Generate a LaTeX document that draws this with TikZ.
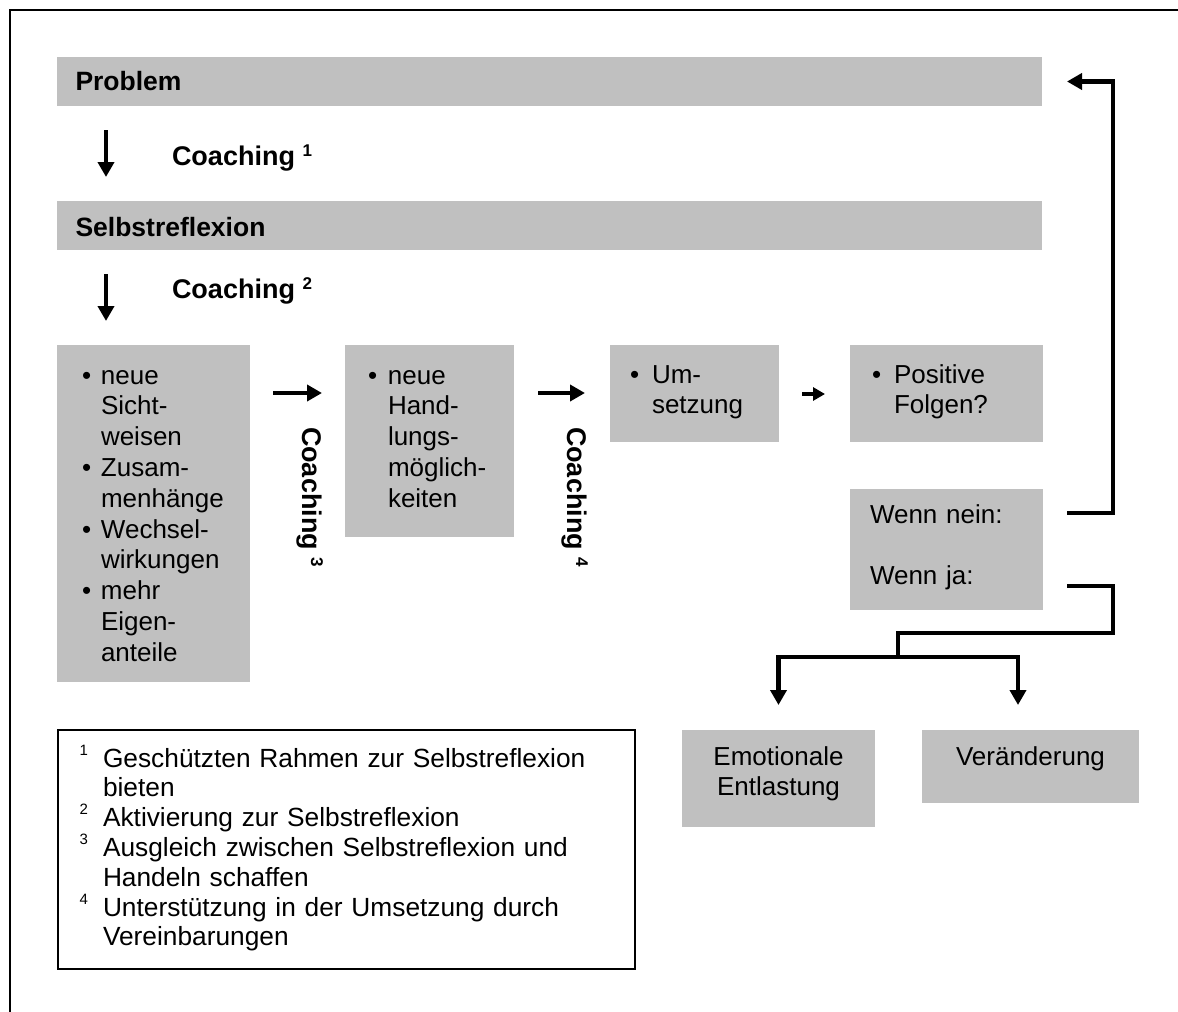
\documentclass[tikz,border=0pt]{standalone}
\usepackage{fontspec}
\setmainfont{Liberation Sans}
\usetikzlibrary{arrows.meta}
\definecolor{boxgray}{HTML}{C0C0C0}
\newcommand{\mybul}[1]{\leavevmode\makebox[#1][l]{\textbullet}}
\newcommand{\myind}[1]{\leavevmode\hspace*{#1}}
\newcommand{\csup}[1]{\raisebox{9pt}{\fontsize{17pt}{17pt}\selectfont #1}}
\newcommand{\fnm}[1]{\leavevmode\llap{\raisebox{12pt}{\fontsize{15pt}{15pt}\selectfont #1}\hspace{15pt}}}
\tikzset{
  box/.style={fill=boxgray, draw=none, inner sep=0pt, outer sep=0pt, anchor=north west},
  txt/.style={inner sep=0pt, outer sep=0pt, anchor=base west, align=left,
    font=\fontsize{26pt}{30.8pt}\selectfont},
  head/.style={inner sep=0pt, outer sep=0pt, anchor=base west,
    font=\fontsize{26.5pt}{30pt}\selectfont\bfseries},
  coach/.style={inner sep=0pt, outer sep=0pt, anchor=base west,
    font=\fontsize{27pt}{30pt}\selectfont\bfseries},
  arr/.style={line width=4.5pt, -{Triangle[length=15pt,width=16pt]}},
  arrsmall/.style={line width=4.5pt, -{Triangle[length=12pt,width=13pt]}},
  conn/.style={line width=4.5pt},
  frame/.style={line width=2pt}
}
\begin{document}
\begin{tikzpicture}[x=1pt,y=-1pt]
\useasboundingbox (0,0) rectangle (1178,1012);
% outer frame (top and left)
\draw[frame] (10,1012) -- (10,9.5) -- (1178,9.5);

% boxes
\node[box, minimum width=985pt, minimum height=49pt] (P) at (57,57) {};
\node[box, minimum width=985pt, minimum height=49pt] (S) at (57,201) {};
\node[box, minimum width=193pt, minimum height=337pt] (A) at (57,345) {};
\node[box, minimum width=169pt, minimum height=192pt] (B) at (345,345) {};
\node[box, minimum width=169pt, minimum height=97pt] (C) at (610,345) {};
\node[box, minimum width=193pt, minimum height=97pt] (D) at (850,345) {};
\node[box, minimum width=193pt, minimum height=121pt] (E) at (850,489) {};
\node[box, minimum width=193pt, minimum height=97pt] (F) at (682,730) {};
\node[box, minimum width=217pt, minimum height=73pt] (G) at (922,730) {};
\node[draw, frame, inner sep=0pt, outer sep=0pt, anchor=north west,
      minimum width=577pt, minimum height=239pt] (FN) at (58,730) {};

% texts
\node[head] (Pt) at (75.5,90.7) {Problem};
\node[head] (St) at (75.5,236.5) {Selbstreflexion};
\node[coach] (C1) at (172,165) {Coaching \csup{1}};
\node[coach] (C2) at (172,298) {Coaching \csup{2}};
\node[coach, rotate=-90] (C3) at (302,427) {Coaching \csup{3}};
\node[coach, rotate=-90] (C4) at (567,427) {Coaching \csup{4}};

\node[txt, text width=150pt] (At) at (82,384) {%
\mybul{19pt}neue\\\myind{19pt}Sicht-\\\myind{19pt}weisen\\
\mybul{19pt}Zusam-\\\myind{19pt}menhänge\\
\mybul{19pt}Wechsel-\\\myind{19pt}wirkungen\\
\mybul{19pt}mehr\\\myind{19pt}Eigen-\\\myind{19pt}anteile};
\node[txt, text width=140pt] (Bt) at (368,384) {%
\mybul{20pt}neue\\\myind{20pt}Hand-\\\myind{20pt}lungs-\\\myind{20pt}möglich-\\\myind{20pt}keiten};
\node[txt, text width=140pt] (Ct) at (630,383) {%
\mybul{22pt}Um-\\\myind{22pt}setzung};
\node[txt, text width=160pt] (Dt) at (872,383) {%
\mybul{22pt}Positive\\\myind{22pt}Folgen?};
\node[txt, text width=170pt] (Et) at (870,523) {Wenn nein:\\\mbox{}\\Wenn ja:};
\node[txt, anchor=base, align=center, text width=193pt] (Ft) at (778.5,765) {Emotionale\\Entlastung};
\node[txt, anchor=base, align=center, text width=217pt] (Gt) at (1030.5,765) {Veränderung};

\node[txt, font=\fontsize{26.3pt}{29.8pt}\selectfont, text width=525pt] (FNt) at (103,767) {%
\fnm{1}Geschützten Rahmen zur Selbstreflexion\\
bieten\\
\fnm{2}Aktivierung zur Selbstreflexion\\
\fnm{3}Ausgleich zwischen Selbstreflexion und\\
Handeln schaffen\\
\fnm{4}Unterstützung in der Umsetzung durch\\
Vereinbarungen};

% connectors
\draw[arr, shorten <=24pt, shorten >=24pt] ([xshift=49pt]P.south west) -- ([xshift=49pt]S.north west);
\draw[arr, shorten <=24pt, shorten >=24pt] ([xshift=49pt]S.south west) -- ([xshift=49pt]A.north west);
\draw[arr, shorten <=23pt, shorten >=23pt] ([yshift=-48pt]A.north east) -- ([yshift=-48pt]B.north west);
\draw[arr, shorten <=24pt, shorten >=25pt] ([yshift=-48pt]B.north east) -- ([yshift=-48pt]C.north west);
\draw[arrsmall, shorten <=23pt, shorten >=25pt] ([yshift=-49pt]C.north east) -- ([yshift=-49pt]D.north west);

\coordinate (nein) at ([shift={(24pt,-24pt)}]E.north east);
\coordinate (ja) at ([shift={(24pt,24pt)}]E.south east);
\coordinate (bend) at (1113,633);
\coordinate (split) at (898,657);

\draw[arr] (nein) -| ([xshift=71pt]P.east) -- ([xshift=25pt]P.east);
\draw[conn] (ja) -| (bend) -| (split);
\draw[arr] (split) -| ([yshift=25pt]F.north);
\draw[arr] (split) -| ([shift={(-12.5pt,25pt)}]G.north);
\end{tikzpicture}
\end{document}
